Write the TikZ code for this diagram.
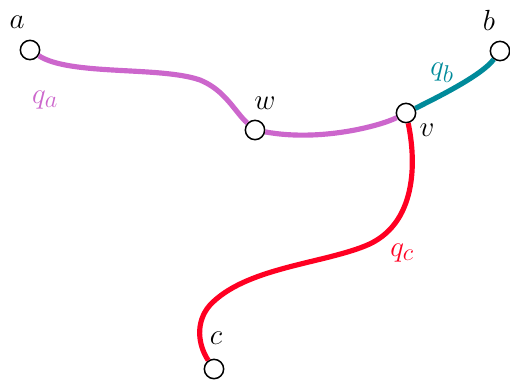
\documentclass[tikz,border=0pt]{standalone}
\usepackage{xcolor}
\usepackage{tikz}
\usetikzlibrary{calc}
\definecolor{viola}{HTML}{CC66CC}
\definecolor{petrolio}{HTML}{008A9A}
\definecolor{rosso}{HTML}{FF0022}

\begin{document}
\begin{tikzpicture}[x=0.03cm, y=-0.03cm,
  vert/.style={circle, draw=black, fill=white, line width=1.3pt, minimum size=0.58cm, inner sep=0pt},
  path/.style={line width=4.4pt}]
  \useasboundingbox (0,0) rectangle (510,380);

  % Vertici
  \node[vert] (a) at (30,50) {};
  \node[vert] (w) at (255,130) {};
  \node[vert] (v) at (406,113) {};
  \node[vert] (b) at (500,51) {};
  \node[vert] (c) at (214,369) {};

  % Cammino q_a
  \draw[viola, path] (a) .. controls (70,76) and (160,66) .. (200,80)
    .. controls (225,90) and (235,112) .. (w);
  \draw[viola, path] (w) .. controls (320,142) and (380,126) .. (v);

  % Cammino q_b
  \draw[petrolio, path] (v) .. controls (440,96) and (482,75) .. (b);

  % Cammino q_c
  \draw[rosso, path] (v) .. controls (416,160) and (418,225) .. (365,246)
    .. controls (320,264) and (245,268) .. (210,305)
    .. controls (195,322) and (198,345) .. (c);

  % Etichette vertici
  \node[font=\Huge] at (17,22) {$a$};
  \node[font=\Huge] at (489,20) {$b$};
  \node[font=\Huge] at (216,338) {$c$};
  \node[font=\Huge] at (265,103) {$w$};
  \node[font=\Huge] at (427,130) {$v$};

  % Etichette cammini
  \node[font=\Huge, color=viola] at (45,100) {$q_a$};
  \node[font=\Huge, color=petrolio] at (442,73) {$q_b$};
  \node[font=\Huge, color=rosso] at (402,253) {$q_c$};
\end{tikzpicture}
\end{document}
